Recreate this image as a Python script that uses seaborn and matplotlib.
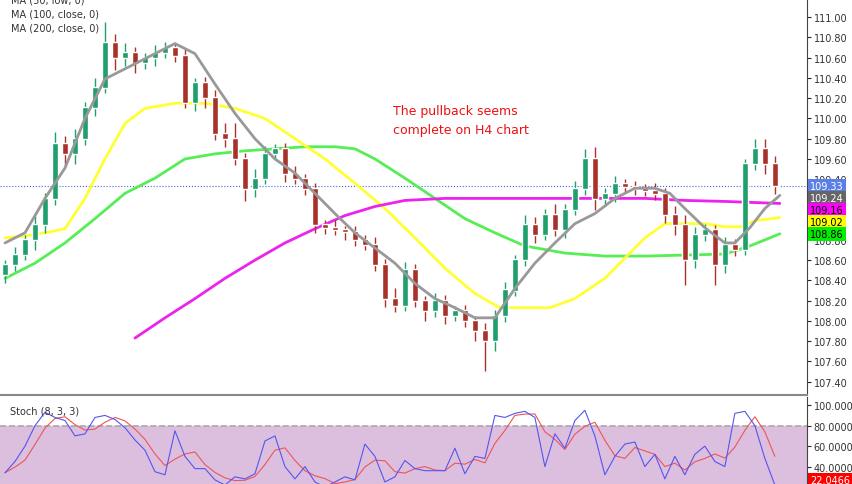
import numpy as np
import pandas as pd
import matplotlib.pyplot as plt
import seaborn as sns

# H4 candles (one per index)
closes = [108.55, 108.65, 108.80, 108.95, 109.20, 109.75, 109.65, 109.80, 110.10, 110.30,
          110.75, 110.60, 110.65, 110.55, 110.60, 110.65, 110.70, 110.62, 110.15, 110.35,
          110.20, 109.85, 109.80, 109.60, 109.30, 109.40, 109.65, 109.70, 109.45, 109.40,
          109.30, 108.95, 108.92, 108.90, 108.88, 108.80, 108.75, 108.55, 108.22, 108.15,
          108.50, 108.20, 108.10, 108.20, 108.05, 108.10, 108.00, 107.90, 107.80, 108.05,
          108.30, 108.60, 108.95, 108.85, 109.05, 108.90, 109.10, 109.30, 109.60, 109.20,
          109.25, 109.35, 109.32, 109.30, 109.28, 109.25, 109.05, 108.95, 108.60, 108.85,
          108.90, 108.55, 108.75, 108.70, 109.55, 109.70, 109.55, 109.33]
opens = [108.45] + closes[:-1]
wick_up = [0.05, 0.08, 0.05, 0.10, 0.06, 0.12, 0.08, 0.10, 0.06, 0.10,
           0.20, 0.08, 0.10, 0.06, 0.05, 0.08, 0.06, 0.05, 0.08, 0.05,
           0.06, 0.08, 0.10, 0.15, 0.06, 0.10, 0.08, 0.05, 0.06, 0.08,
           0.05, 0.06, 0.05, 0.08, 0.04, 0.06, 0.05, 0.08, 0.06, 0.10,
           0.08, 0.06, 0.05, 0.08, 0.06, 0.05, 0.06, 0.05, 0.08, 0.06,
           0.08, 0.05, 0.10, 0.08, 0.06, 0.10, 0.05, 0.08, 0.10, 0.12,
           0.06, 0.08, 0.05, 0.06, 0.05, 0.08, 0.06, 0.08, 0.10, 0.08,
           0.06, 0.05, 0.08, 0.06, 0.05, 0.10, 0.10, 0.08]
wick_dn = [0.08, 0.06, 0.05, 0.10, 0.08, 0.06, 0.12, 0.10, 0.06, 0.08,
           0.05, 0.12, 0.08, 0.10, 0.06, 0.08, 0.05, 0.06, 0.05, 0.08,
           0.10, 0.06, 0.08, 0.06, 0.12, 0.08, 0.05, 0.06, 0.08, 0.05,
           0.06, 0.08, 0.06, 0.05, 0.08, 0.06, 0.05, 0.06, 0.08, 0.06,
           0.05, 0.06, 0.10, 0.06, 0.08, 0.05, 0.06, 0.10, 0.30, 0.10,
           0.06, 0.05, 0.06, 0.08, 0.05, 0.06, 0.08, 0.05, 0.06, 0.10,
           0.06, 0.08, 0.05, 0.06, 0.05, 0.06, 0.08, 0.10, 0.25, 0.08,
           0.06, 0.20, 0.08, 0.06, 0.05, 0.06, 0.10, 0.08]

# moving averages (sampled at candle index)
ma_gray_x = [0, 2, 4, 6, 8, 10, 13, 15, 17, 19, 21, 23, 25, 27, 29, 31, 33, 35, 37, 39,
             41, 43, 45, 47, 49, 51, 53, 55, 57, 59, 61, 63, 65, 66.5, 68, 70, 72, 73, 74.5, 76, 77.5]
ma_gray = [108.77, 108.87, 109.21, 109.51, 110.00, 110.39, 110.54, 110.64, 110.74, 110.64,
           110.34, 110.05, 109.80, 109.60, 109.46, 109.26, 109.06, 108.87, 108.72, 108.57,
           108.37, 108.22, 108.13, 108.03, 108.03, 108.32, 108.57, 108.77, 108.96, 109.06,
           109.21, 109.31, 109.31, 109.26, 109.11, 108.92, 108.77, 108.77, 108.92, 109.11, 109.24]
ma_yellow_x = [0, 2, 4, 6, 8, 10, 12, 14, 17, 20, 23, 26, 29, 32, 35, 38, 41, 44, 47, 49.5,
               52, 54.5, 57, 60, 62, 64, 66, 68, 70, 72, 73.5, 75, 77.5]
ma_yellow = [108.82, 108.84, 108.87, 108.91, 109.21, 109.60, 109.95, 110.10, 110.15, 110.15,
             110.10, 110.00, 109.80, 109.60, 109.36, 109.11, 108.82, 108.52, 108.27, 108.13,
             108.13, 108.13, 108.22, 108.42, 108.62, 108.82, 108.96, 108.96, 108.96, 108.93,
             108.93, 108.99, 109.02]
ma_green_x = [0, 3, 6, 9, 12, 15, 18, 21, 24, 27, 30, 33, 35, 37, 40, 43, 46, 49, 52, 56,
              60, 64, 68, 72, 74.5, 77.5]
ma_green = [108.42, 108.57, 108.77, 109.01, 109.26, 109.41, 109.60, 109.65, 109.68, 109.70,
            109.72, 109.72, 109.70, 109.60, 109.41, 109.21, 109.01, 108.87, 108.74, 108.67,
            108.64, 108.64, 108.65, 108.66, 108.74, 108.86]
ma_magenta_x = [13, 16, 19, 22, 25, 28, 31, 34, 37, 40, 44, 48, 52, 56, 60, 64, 68, 72, 77.5]
ma_magenta = [107.83, 108.03, 108.22, 108.42, 108.60, 108.77, 108.91, 109.04, 109.13, 109.19,
              109.21, 109.21, 109.21, 109.21, 109.21, 109.21, 109.19, 109.18, 109.16]

# stochastic %K (8, 3, 3)
stoch_k = [34, 45, 60, 80, 93, 88, 85, 70, 72, 88, 90, 86, 78, 66, 56, 35, 32, 75, 50, 38,
           38, 27, 22, 30, 28, 33, 65, 70, 40, 28, 40, 25, 20, 25, 30, 27, 62, 50, 25, 30,
           46, 38, 36, 36, 36, 58, 33, 50, 48, 90, 88, 92, 94, 88, 40, 72, 58, 85, 95, 70,
           32, 50, 62, 64, 40, 52, 28, 50, 32, 52, 60, 45, 40, 92, 94, 80, 48, 22]

price_labels = ['109.33', '109.24', '109.16', '109.02', '108.86']
label_colors = ['#5b7fe8', '#666666', '#ff00ff', '#ffff00', '#00ee00']
label_text = ['white', 'white', 'black', 'black', 'black']

sns.set_style('white')
fig = plt.figure(figsize=(8.52, 4.85), dpi=100)
ax = fig.add_axes([0, 0.184, 0.947, 0.816])
ax2 = fig.add_axes([0, 0, 0.947, 0.179])

idx = np.arange(len(closes))
o = np.array(opens); c = np.array(closes)
hi = np.maximum(o, c) + np.array(wick_up)
lo = np.minimum(o, c) - np.array(wick_dn)
cols = np.where(c >= o, '#1f9f6b', '#a8322a')
ax.vlines(idx, lo, hi, colors=cols, lw=1, zorder=3)
ax.bar(idx, np.abs(c - o) + 0.01, bottom=np.minimum(o, c), width=0.55, color=cols, zorder=4)

sns.lineplot(x=ma_green_x, y=ma_green, ax=ax, color='#55ee55', lw=2, zorder=2)
sns.lineplot(x=ma_yellow_x, y=ma_yellow, ax=ax, color='#ffff33', lw=2, zorder=2)
sns.lineplot(x=ma_magenta_x, y=ma_magenta, ax=ax, color='#ee22ee', lw=2, zorder=2)
sns.lineplot(x=ma_gray_x, y=ma_gray, ax=ax, color='#999999', lw=2, zorder=5)
ax.axhline(float(price_labels[0]), color='#4466dd', lw=0.8, ls=':', zorder=1)

ax.set_xlim(-0.5, 80.2)
ax.set_ylim(107.27, 111.18)
ax.set_xticks([])
ax.yaxis.tick_right()
ax.set_yticks(np.arange(107.4, 111.01, 0.2))
ax.set_yticklabels([f'{v:.2f}' for v in np.arange(107.4, 111.01, 0.2)], fontsize=7, color='#333333')
ax.tick_params(axis='y', length=3, pad=2)
for s in ['top', 'left']:
    ax.spines[s].set_visible(False)
ax.spines['right'].set_color('#444444')
ax.spines['bottom'].set_color('#888888')
ax.spines['bottom'].set_linewidth(1.5)

# value tags: figure-level so they sit above the tick labels, nudged apart to stack
tag_offsets = [0, -0.024, -0.063, -0.041, 0]
for lab, bg, fg, off in zip(price_labels, label_colors, label_text, tag_offsets):
    fig.text(1.004, float(lab) + off, lab, transform=ax.get_yaxis_transform(), fontsize=7, color=fg,
             va='center', ha='left', zorder=10,
             bbox=dict(boxstyle='square,pad=0.2', fc=bg, ec='none'))

ax.text(0.014, 1.012, 'MA (50, low, 0)\nMA (100, close, 0)\nMA (200, close, 0)', transform=ax.transAxes,
        fontsize=7, va='top', ha='left', color='#333333', linespacing=1.5)
ax.text(38.8, 109.98, 'The pullback seems\ncomplete on H4 chart', color='#ee1111', fontsize=9,
        va='center', ha='left', linespacing=1.6)

# stochastic panel
stoch_d = pd.Series(stoch_k).rolling(3, min_periods=1).mean()
ax2.axhspan(20, 80, color='#dcbfdf', zorder=0)
ax2.axhline(80, color='#aaaaaa', ls='--', lw=1.2, zorder=1)
sns.lineplot(x=idx, y=stoch_d, ax=ax2, color='#ee5555', lw=0.8)
sns.lineplot(x=idx, y=stoch_k, ax=ax2, color='#5555ee', lw=0.8)
ax2.set_xlim(-0.5, 80.2)
ax2.set_ylim(23, 107.8)
ax2.set_xticks([])
ax2.yaxis.tick_right()
ax2.set_yticks([40, 60, 80, 100])
ax2.set_yticklabels(['40.0000', '60.0000', '80.0000', '100.0000'], fontsize=7, color='#333333')
ax2.tick_params(axis='y', length=3, pad=2)
for s in ['top', 'left', 'bottom']:
    ax2.spines[s].set_visible(False)
ax2.spines['right'].set_color('#444444')
ax2.text(0.012, 0.9, 'Stoch (8, 3, 3)', transform=ax2.transAxes, fontsize=7, va='top', color='#333333')
fig.text(1.004, 27, '22.0466', transform=ax2.get_yaxis_transform(), fontsize=7, color='white',
         va='center', zorder=10, bbox=dict(boxstyle='square,pad=0.2', fc='#ff0000', ec='none'))

fig.savefig('out.png', dpi=100)
